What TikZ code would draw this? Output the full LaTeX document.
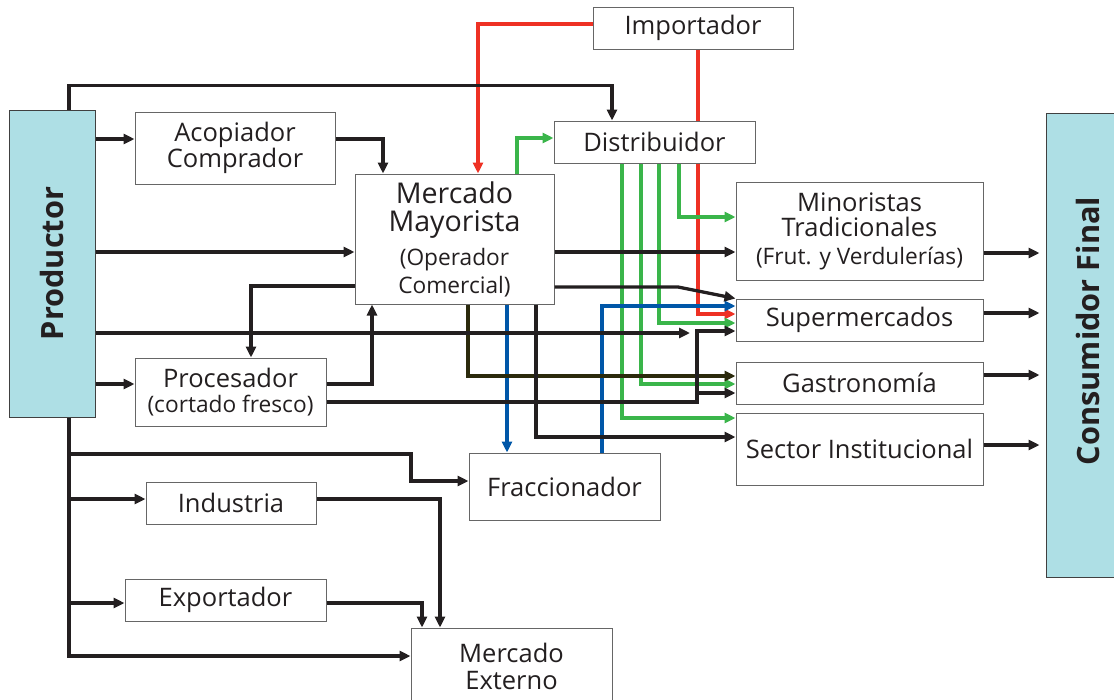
\documentclass[tikz,border=0pt]{standalone}
\usepackage{fontspec}
\setmainfont{Open Sans}
\usepackage{xcolor}
\usepackage{graphicx}
\usetikzlibrary{arrows.meta, positioning}

\definecolor{cyanfill}{HTML}{AEDFE5}
\definecolor{lnblack}{HTML}{231F20}
\definecolor{lnred}{HTML}{EE3124}
\definecolor{lngreen}{HTML}{3AB54A}
\definecolor{lnblue}{HTML}{0057A8}
\definecolor{lnolive}{HTML}{2B2A0C}

\newcommand{\fbase}{\fontsize{25.5}{25}\selectfont}
\newcommand{\fsmall}{\fontsize{22.7}{25}\selectfont}
\newcommand{\fbig}{\fontsize{28.6}{28}\selectfont}
\newcommand{\fbold}{\fontsize{30.7}{32}\selectfont\bfseries}

\begin{document}
\begin{tikzpicture}[
    x=1pt, y=-1pt,
    cbox/.style={draw=black!60, line width=1pt, fill=white, inner sep=0pt, align=center, font=\fbase, text=lnblack},
    actor/.style={cbox, fill=cyanfill, draw=black!75, font=\fbold},
    wire/.style={line width=3.3pt},
    arr/.style={-{Triangle[length=11pt,width=10pt]}, line width=3.3pt, lnblack}
]
\useasboundingbox (0,0) rectangle (1114,699);

% Ends of the chain
\node[actor, minimum width=86pt, minimum height=307pt] (prod) at (52,263.5) {\rotatebox{90}{Productor}};
\node[actor, minimum width=84pt, minimum height=464pt] (cons) at (1088,345) {\rotatebox{90}{\hspace*{28pt}Consumidor Final}};

% Intermediaries
\node[cbox, minimum width=200pt, minimum height=42pt] (imp) at (693,28) {Importador};
\node[cbox, minimum width=201pt, minimum height=42pt] (dist) at (654.5,142) {Distribuidor};
\node[cbox, minimum width=200pt, minimum height=72pt] (acop) at (235,148) {Acopiador\\Comprador};
\node[cbox, minimum width=199pt, minimum height=130pt, font=\fbig] (mm) at (454.5,239) {Mercado\\Mayorista\\[6pt]\fsmall(Operador\\\fsmall Comercial)};
\node[cbox, minimum width=191pt, minimum height=68pt] (proc) at (230.5,392) {Procesador\\\fsmall(cortado fresco)};
\node[cbox, minimum width=191pt, minimum height=67pt] (fracc) at (564.5,486.5) {Fraccionador};
\node[cbox, minimum width=170pt, minimum height=42pt] (ind) at (231,503) {Industria};
\node[cbox, minimum width=201pt, minimum height=42pt] (expo) at (225.5,600) {Exportador};
\node[cbox, minimum width=201pt, minimum height=76pt] (mext) at (511.5,666) {Mercado\\[2pt]Externo};

% Retail column
\node[cbox, minimum width=247pt, minimum height=98pt] (mino) at (859.5,231) {Minoristas\\Tradicionales\\[3pt]\fsmall(Frut. y Verdulerías)};
\node[cbox, minimum width=247pt, minimum height=42pt, below=18pt of mino] (super) {Supermercados};
\node[cbox, minimum width=247pt, minimum height=42pt, below=20pt of super] (gastro) {Gastronomía};
\node[cbox, minimum width=247pt, minimum height=72pt, below=8pt of gastro] (sector) {Sector Institucional};

\coordinate (trunk) at (prod.south -| 69,0);
\coordinate (pend) at (690,333);

% Importador (red)
\draw[arr, lnred] (imp.west |- 0,24) -| (mm.north -| 478,0);
\draw[wire, lnred] (imp.south -| 698,0) -- (dist.north -| 698,0);
\draw[arr, lnred] (dist.south -| 698,0) |- (super.west |- 0,314);

% Distribuidor (green)
\draw[arr, lngreen] (mm.north -| 517,0) |- (dist.west |- 0,138);
\foreach \gx/\gy/\dest in {679/217/mino, 659/323/super, 641/384/gastro, 622/418/sector}
  \draw[arr, lngreen] (dist.south -| \gx,0) |- (\dest.west |- 0,\gy);

% Fraccionador (blue)
\draw[arr, lnblue] (mm.south -| 507,0) -- (fracc.north -| 507,0);
\draw[arr, lnblue] (fracc.north -| 602,0) |- (super.west |- 0,306);

% Mercado Mayorista -> Gastronomia
\draw[arr, lnolive] (mm.south -| 468,0) |- (gastro.west |- 0,376);

% Productor
\draw[arr] (prod.north -| 69,0) -- ++(0,-24) -| (dist.north -| 612,0);
\draw[arr] (prod.east |- 0,139) -- (acop.west |- 0,139);
\draw[arr] (prod.east |- 0,252) -- (mm.west |- 0,252);
\draw[arr] (prod.east |- 0,333) -- (pend);
\draw[arr] (prod.east |- 0,384) -- (proc.west |- 0,384);
\draw[arr] (trunk) |- (mext.west |- 0,656);
\draw[arr] (trunk |- 0,454) -| (411,481) -- (fracc.west |- 0,481);
\draw[arr] (trunk |- 0,499) -- (ind.west |- 0,499);
\draw[arr] (trunk |- 0,603) -- (expo.west |- 0,603);

% Mercado Externo
\draw[arr] (ind.east |- 0,499) -| (mext.north -| 440,0);
\draw[arr] (expo.east |- 0,603) -| (mext.north -| 422,0);

% Mercado Mayorista and Procesador
\draw[arr] (acop.east |- 0,139) -| (mm.north -| 383,0);
\draw[arr] (mm.west |- 0,286) -| (proc.north -| 251,0);
\draw[arr] (proc.east |- 0,384) -| (mm.south -| 372,0);
\draw[arr] (proc.east |- 0,402) -| (697,331) -- (super.west |- 0,331);
\draw[arr] (697,393) -- (gastro.west |- 0,393);
\draw[arr] (mm.east |- 0,252) -- (mino.west |- 0,252);
\draw[arr] (mm.east |- 0,287) -- (678,287) -- (super.north west);
\draw[arr] (mm.south -| 536,0) |- (sector.west |- 0,437);

% To the consumer
\foreach \src/\oy in {mino/253, super/313, gastro/375, sector/445}
  \draw[arr, shorten >=6pt] (\src.east |- 0,\oy) -- (cons.west |- 0,\oy);

\end{tikzpicture}
\end{document}
